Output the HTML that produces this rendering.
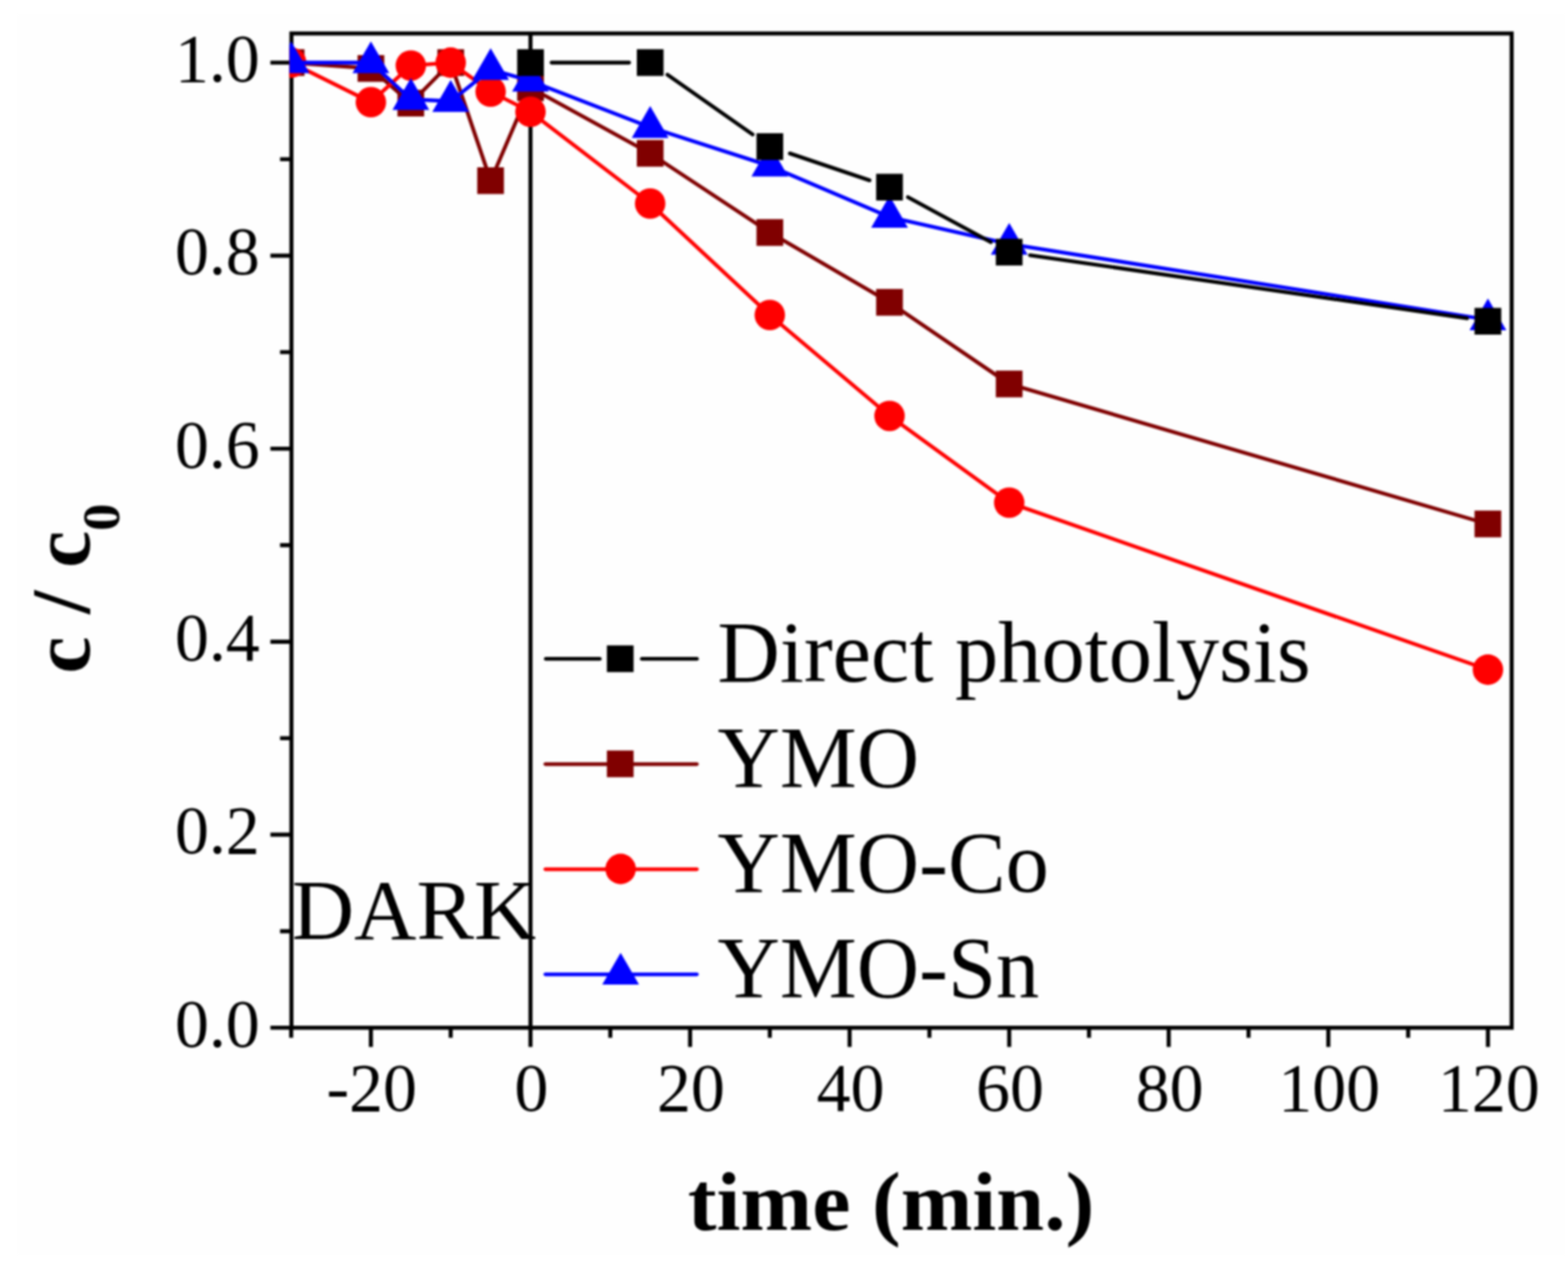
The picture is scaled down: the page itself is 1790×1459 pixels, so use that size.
<!DOCTYPE html>
<html><head><meta charset="utf-8"><title>c/c0 vs time</title><style>html,body{margin:0;padding:0;background:#fff;}
svg{display:block;filter:blur(0.8px);}
text{font-family:"Liberation Serif",serif;fill:#000;}
.tl{font-size:77.5px;}
.lg{font-size:98.7px;}
.dk{font-size:98.4px;}
.ti{font-size:98.5px;font-weight:bold;}
.tx{font-size:96px;}
.ty{font-size:95.5px;word-spacing:2px;}
.sub{font-size:62px;}
</style></head>
<body><svg width="1790" height="1459" viewBox="0 0 1790 1459">
<defs><clipPath id="clip"><rect x="330.4" y="35.9" width="1397.6" height="1139.7"/></clipPath></defs>
<rect x="19" y="16" width="1768" height="1417" fill="#fefefe"/>
<line x1="605.6" y1="38.2" x2="605.6" y2="1173.3" stroke="#000" stroke-width="4.6"/>
<rect x="332.7" y="38.2" width="1393" height="1135.1" fill="none" stroke="#000" stroke-width="4.6"/>
<path d="M308.7 1173.3H332.7M319.7 1063.1H332.7M308.7 952.9H332.7M319.7 842.8H332.7M308.7 732.6H332.7M319.7 622.4H332.7M308.7 512.2H332.7M319.7 402H332.7M308.7 291.9H332.7M319.7 181.7H332.7M308.7 71.5H332.7M332.4 1173.3V1184.8M423.4 1173.3V1195.3M514.5 1173.3V1184.8M605.6 1173.3V1195.3M696.7 1173.3V1184.8M787.8 1173.3V1195.3M878.8 1173.3V1184.8M969.9 1173.3V1195.3M1061 1173.3V1184.8M1152.1 1173.3V1195.3M1243.2 1173.3V1184.8M1334.2 1173.3V1195.3M1425.3 1173.3V1184.8M1516.4 1173.3V1195.3M1607.5 1173.3V1184.8M1698.6 1173.3V1195.3" stroke="#000" stroke-width="4.6" fill="none"/>
<g clip-path="url(#clip)"><polyline points="332.4,71.5 423.4,78.1 469,117.8 514.5,71.5 560.1,206.3 605.6,100.1 742.2,175.1 878.8,265.4 1015.5,345.2 1152.1,438.4 1698.6,598.2" fill="none" stroke="#800000" stroke-width="4.3" stroke-linejoin="round" stroke-linecap="round"/><rect x="317.1" y="56.2" width="30.5" height="30.5" fill="#800000"/><rect x="408.2" y="62.9" width="30.5" height="30.5" fill="#800000"/><rect x="453.7" y="102.5" width="30.5" height="30.5" fill="#800000"/><rect x="499.3" y="56.2" width="30.5" height="30.5" fill="#800000"/><rect x="544.8" y="191" width="30.5" height="30.5" fill="#800000"/><rect x="590.4" y="84.9" width="30.5" height="30.5" fill="#800000"/><rect x="727" y="159.8" width="30.5" height="30.5" fill="#800000"/><rect x="863.6" y="250.2" width="30.5" height="30.5" fill="#800000"/><rect x="1000.2" y="329.9" width="30.5" height="30.5" fill="#800000"/><rect x="1136.8" y="423.1" width="30.5" height="30.5" fill="#800000"/><rect x="1683.3" y="582.9" width="30.5" height="30.5" fill="#800000"/><polyline points="332.4,71.5 423.4,116.7 469,74.8 514.5,71.5 560.1,104.6 605.6,127.7 742.2,232.4 878.8,359.6 1015.5,474.8 1152.1,573.9 1698.6,764.5" fill="none" stroke="#ff0000" stroke-width="4.3" stroke-linejoin="round" stroke-linecap="round"/><circle cx="332.4" cy="71.5" r="17.4" fill="#ff0000"/><circle cx="423.4" cy="116.7" r="17.4" fill="#ff0000"/><circle cx="469" cy="74.8" r="17.4" fill="#ff0000"/><circle cx="514.5" cy="71.5" r="17.4" fill="#ff0000"/><circle cx="560.1" cy="104.6" r="17.4" fill="#ff0000"/><circle cx="605.6" cy="127.7" r="17.4" fill="#ff0000"/><circle cx="742.2" cy="232.4" r="17.4" fill="#ff0000"/><circle cx="878.8" cy="359.6" r="17.4" fill="#ff0000"/><circle cx="1015.5" cy="474.8" r="17.4" fill="#ff0000"/><circle cx="1152.1" cy="573.9" r="17.4" fill="#ff0000"/><circle cx="1698.6" cy="764.5" r="17.4" fill="#ff0000"/><polyline points="332.4,71.5 423.4,71.5 469,113.4 514.5,115.6 560.1,79.2 605.6,92.4 742.2,145.3 878.8,189.4 1015.5,247.8 1152.1,278.6 1698.6,365" fill="none" stroke="#0000ff" stroke-width="4.3" stroke-linejoin="round" stroke-linecap="round"/><path d="M332.4 47.3L353.4 83.6L311.4 83.6Z" fill="#0000ff"/><path d="M423.4 47.3L444.4 83.6L402.4 83.6Z" fill="#0000ff"/><path d="M469 89.1L490 125.5L448 125.5Z" fill="#0000ff"/><path d="M514.5 91.3L535.5 127.7L493.5 127.7Z" fill="#0000ff"/><path d="M560.1 55L581.1 91.3L539.1 91.3Z" fill="#0000ff"/><path d="M605.6 68.2L626.6 104.6L584.6 104.6Z" fill="#0000ff"/><path d="M742.2 121.1L763.2 157.4L721.2 157.4Z" fill="#0000ff"/><path d="M878.8 165.1L899.8 201.5L857.8 201.5Z" fill="#0000ff"/><path d="M1015.5 223.5L1036.5 259.9L994.5 259.9Z" fill="#0000ff"/><path d="M1152.1 254.4L1173.1 290.8L1131.1 290.8Z" fill="#0000ff"/><path d="M1698.6 340.8L1719.6 377.1L1677.6 377.1Z" fill="#0000ff"/><line x1="629.6" y1="71.5" x2="718.2" y2="71.5" stroke="#000000" stroke-width="4.3" stroke-linecap="round"/><line x1="761.9" y1="85.3" x2="859.2" y2="153.6" stroke="#000000" stroke-width="4.3" stroke-linecap="round"/><line x1="901.6" y1="175.1" x2="992.7" y2="205.9" stroke="#000000" stroke-width="4.3" stroke-linecap="round"/><line x1="1036.5" y1="225.1" x2="1131" y2="276.4" stroke="#000000" stroke-width="4.3" stroke-linecap="round"/><line x1="1175.8" y1="291.3" x2="1674.8" y2="363.4" stroke="#000000" stroke-width="4.3" stroke-linecap="round"/><rect x="590.4" y="56.2" width="30.5" height="30.5" fill="#000000"/><rect x="727" y="56.2" width="30.5" height="30.5" fill="#000000"/><rect x="863.6" y="152.1" width="30.5" height="30.5" fill="#000000"/><rect x="1000.2" y="198.4" width="30.5" height="30.5" fill="#000000"/><rect x="1136.8" y="272.6" width="30.5" height="30.5" fill="#000000"/><rect x="1683.3" y="351.5" width="30.5" height="30.5" fill="#000000"/></g>
<text x="296.5" y="1194.8" text-anchor="end" class="tl yl">0.0</text><text x="296.5" y="974.4" text-anchor="end" class="tl yl">0.2</text><text x="296.5" y="754.1" text-anchor="end" class="tl yl">0.4</text><text x="296.5" y="533.7" text-anchor="end" class="tl yl">0.6</text><text x="296.5" y="313.4" text-anchor="end" class="tl yl">0.8</text><text x="296.5" y="93" text-anchor="end" class="tl yl">1.0</text><text x="424.4" y="1267.8" text-anchor="middle" class="tl">-20</text><text x="606.6" y="1267.8" text-anchor="middle" class="tl">0</text><text x="788.8" y="1267.8" text-anchor="middle" class="tl">20</text><text x="970.9" y="1267.8" text-anchor="middle" class="tl">40</text><text x="1153.1" y="1267.8" text-anchor="middle" class="tl">60</text><text x="1335.2" y="1267.8" text-anchor="middle" class="tl">80</text><text x="1517.4" y="1267.8" text-anchor="middle" class="tl">100</text><text x="1699.6" y="1267.8" text-anchor="middle" class="tl">120</text>
<text transform="translate(1017.3 1404.4) scale(1.024 1)" text-anchor="middle" class="ti tx">time (min.)</text>
<text transform="translate(102.2 672) rotate(-90)" text-anchor="middle" class="ti ty">c / c<tspan class="sub" dy="34">0</tspan></text>
<text x="333.3" y="1071.7" class="lg dk">DARK</text>
<line x1="623.1" y1="752.2" x2="684.7" y2="752.2" stroke="#000" stroke-width="4.3" stroke-linecap="round"/><line x1="732.7" y1="752.2" x2="795.6" y2="752.2" stroke="#000" stroke-width="4.3" stroke-linecap="round"/><rect x="692.8" y="736.8" width="30.5" height="30.5" fill="#000000"/><line x1="622.6" y1="872.3" x2="795.5" y2="872.3" stroke="#800000" stroke-width="4.3" stroke-linecap="round"/><line x1="622.6" y1="992.3" x2="795.5" y2="992.3" stroke="#ff0000" stroke-width="4.3" stroke-linecap="round"/><line x1="622.6" y1="1112.3" x2="795.5" y2="1112.3" stroke="#0000ff" stroke-width="4.3" stroke-linecap="round"/><rect x="692.8" y="856.8" width="30.5" height="30.5" fill="#800000"/><circle cx="708.5" cy="992" r="17.4" fill="#ff0000"/><path d="M708.5 1087.8L729.5 1124.1L687.5 1124.1Z" fill="#0000ff"/><text x="819" y="778.2" class="lg">Direct photolysis</text><text x="819" y="898.2" class="lg">YMO</text><text x="819" y="1018.2" class="lg">YMO-Co</text><text x="819" y="1138.2" class="lg">YMO-Sn</text>
</svg></body></html>
